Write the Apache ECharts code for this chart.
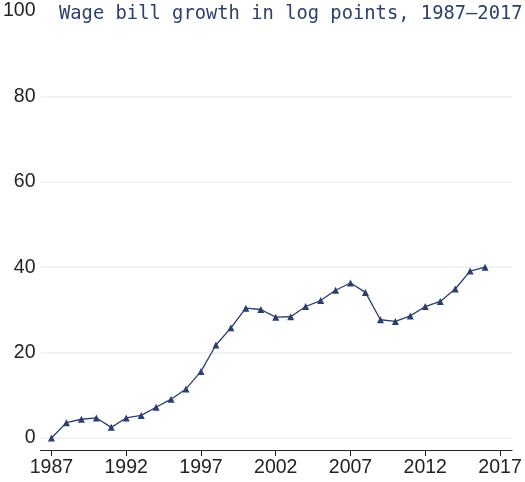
<!DOCTYPE html>
<html lang="en">
<head>
  <meta charset="UTF-8">
  <title>Wage bill growth</title>
  <script src="https://cdn.jsdelivr.net/npm/echarts@6/dist/echarts.min.js"></script>
</head>
<body style="margin:0;">
  <div id="main" style="width:525px;height:482px;"></div>
  <script>
    const years = [1987, 1988, 1989, 1990, 1991, 1992, 1993, 1994, 1995, 1996,
      1997, 1998, 1999, 2000, 2001, 2002, 2003, 2004, 2005, 2006,
      2007, 2008, 2009, 2010, 2011, 2012, 2013, 2014, 2015, 2016];
    const growth = [0, 3.6, 4.4, 4.7, 2.5, 4.7, 5.3, 7.2, 9.1, 11.5,
      15.6, 21.8, 25.8, 30.4, 30.1, 28.3, 28.4, 30.8, 32.2, 34.6,
      36.3, 34.1, 27.7, 27.3, 28.6, 30.8, 32.0, 34.9, 39.1, 40.0];
    const xTicks = [1987, 1992, 1997, 2002, 2007, 2012, 2017];
    const yTicks = [0, 20, 40, 60, 80, 100];
    const gridValues = [0, 20, 40, 60, 80];

    const myChart = echarts.init(document.getElementById('main'));

    const options = {
      animation: false,
      title: {
        text: 'Wage bill growth in log points, 1987\u20132017',
        left: 54,
        top: 0,
        textStyle: {
          fontFamily: 'DejaVu Sans Mono',
          fontSize: 18.8,
          fontWeight: 'normal',
          color: '#2f406c'
        }
      },
      grid: { left: 40, right: 13, top: 11, bottom: 32 },
      xAxis: {
        type: 'value',
        min: 1986.27,
        max: 2017.8,
        splitLine: { show: false },
        axisLine: { onZero: false, lineStyle: { color: '#222', width: 1 } },
        axisTick: { customValues: xTicks, length: 6, lineStyle: { color: '#222' } },
        axisLabel: {
          customValues: xTicks,
          formatter: v => String(v),
          fontFamily: 'Liberation Sans',
          fontSize: 19.5,
          color: '#222',
          margin: 8
        }
      },
      yAxis: {
        type: 'value',
        min: -2.8,
        max: 100,
        splitLine: { show: false },
        axisLine: { show: false },
        axisTick: { show: false },
        axisLabel: {
          customValues: yTicks,
          fontFamily: 'Liberation Sans',
          fontSize: 19.5,
          color: '#222',
          margin: 5
        }
      },
      series: [{
        type: 'line',
        data: years.map((y, i) => [y, growth[i]]),
        symbol: 'triangle',
        symbolSize: 7,
        itemStyle: { color: '#2c3e6d' },
        lineStyle: { color: '#2c3e6d', width: 1.3 },
        z: 3,
        markLine: {
          silent: true,
          symbol: 'none',
          label: { show: false },
          lineStyle: { color: '#e8eff1', type: 'solid', width: 1.5 },
          z: 1,
          data: gridValues.map(v => ({ yAxis: v }))
        }
      }]
    };

    myChart.setOption(options);
  </script>
</body>
</html>
